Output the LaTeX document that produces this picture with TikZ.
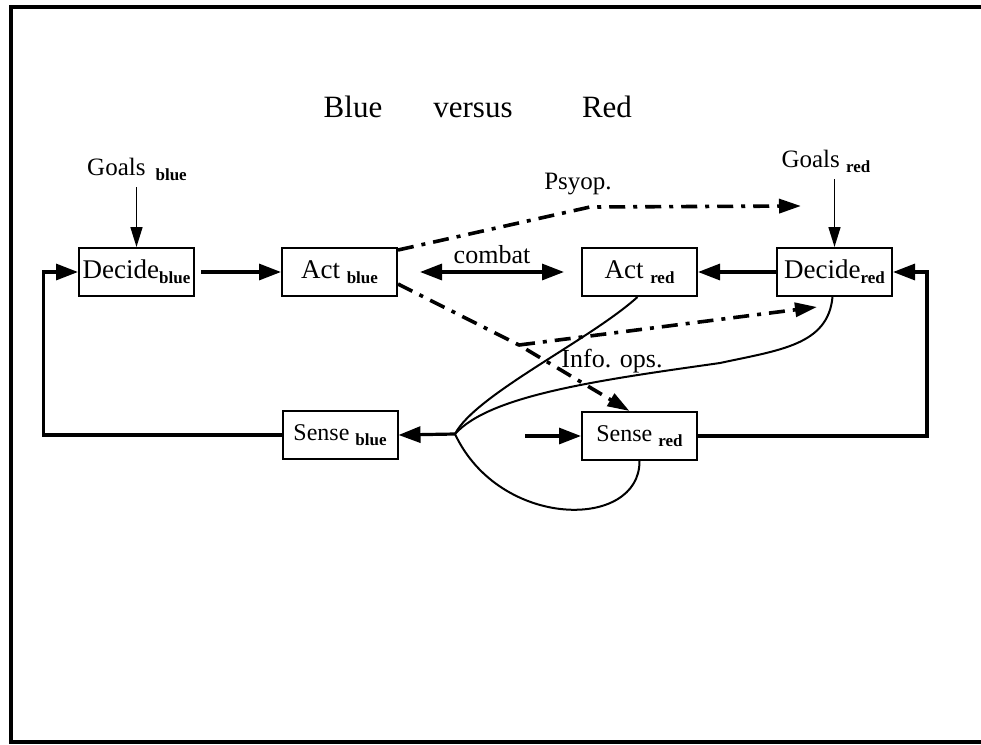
\documentclass[tikz,border=0pt]{standalone}
\usepackage{fontspec}
\setmainfont{Liberation Serif}
\usetikzlibrary{arrows.meta}
\newcommand{\lowsub}[1]{\raisebox{-2.5pt}{\fontsize{8.5}{9}\selectfont\bfseries #1}}

\begin{document}
\begin{tikzpicture}[x=0.5pt,y=-0.5pt,
	stagebox/.style={draw,line width=1pt,minimum width=57.5pt,minimum height=24pt,inner sep=0pt,font=\fontsize{13.5}{15}\selectfont},
	sensebox/.style={stagebox,font=\fontsize{12}{14}\selectfont},
	flowarrow/.style={line width=1.6pt,-{Triangle[length=11pt,width=8pt]}},
	goalarrow/.style={line width=0.8pt,-{Triangle[length=10pt,width=6pt]}},
	opsline/.style={line width=1.8pt,dash pattern=on 8pt off 4pt on 2pt off 4pt,-{Triangle[length=11pt,width=7pt]}},
	curveline/.style={line width=1pt},
	note/.style={font=\fontsize{13}{15}\selectfont},
	titletext/.style={anchor=base,font=\fontsize{15.5}{18}\selectfont}]
			\useasboundingbox (0,0) rectangle (981,745);
			\draw[line width=2pt] (1000,7) -- (11,7) -- (11,742) -- (1000,742);
			\node[titletext] (blue) at (353,117) {Blue};
			\node[titletext] (versus) at (473,117) {versus};
			\node[titletext] (red) at (607,117) {Red};
			\node[stagebox] (decB) at (136.5,272) {Decide\lowsub{blue}};
			\node[stagebox] (actB) at (339.5,272) {Act \lowsub{blue}};
			\node[stagebox] (actR) at (639.5,272) {Act \lowsub{red}};
			\node[stagebox] (decR) at (834.5,272) {Decide\lowsub{red}};
			\node[sensebox] (senB) at (340,435) {Sense \lowsub{blue}};
			\node[sensebox] (senR) at (639.5,436) {Sense \lowsub{red}};
			\node[note,anchor=base,font=\fontsize{12.5}{14}\selectfont] (goalsB) at (137,175) {Goals\hspace{5pt}\lowsub{blue}};
			\node[note,anchor=base,font=\fontsize{12.5}{14}\selectfont] (goalsR) at (826,167) {Goals \lowsub{red}};
			\draw[goalarrow] (goalsB.south -| decB.north) -- (decB.north);
			\draw[goalarrow] (goalsR.south -| decR.north) -- (decR.north);
			\draw[flowarrow] ([xshift=3pt]decB.east) -- (actB.west);
			\draw[flowarrow] (decR.west) -- (actR.east);
			\draw[flowarrow] (senB.west) -- ++(-238,0) |- (decB.west);
			\draw[flowarrow] (senR.east) -- ++(229,0) |- (decR.east);
			\draw[flowarrow,{Triangle[length=11pt,width=8pt]}-{Triangle[length=11pt,width=8pt]}] ([xshift=11pt]actB.east) -- ([xshift=-8.5pt]actR.west);
			\node[note,anchor=base] (combat) at (492,263) {combat};
			\coordinate (psyM) at (590,207);
			\coordinate (psyR) at (801,206);
			\draw[opsline] ([yshift=-1.5pt]actB.north east) -- (psyM) -- (psyR);
			\node[note,anchor=base,font=\fontsize{12.5}{14}\selectfont] (psyop) at (578,189) {Psyop.};
			\coordinate (opsM) at (519,345);
			\coordinate (opsR) at (817,307);
			\draw[opsline] ([yshift=6.5pt]actB.south east) -- (opsM) -- ([xshift=-5pt]senR.north);
			\draw[opsline] (opsM) -- (opsR);
			\node[note,anchor=base] (infoops) at (612,367) {Info. ops.};
			\coordinate (jn) at (455,434);
			\coordinate (sin) at (525,436);
			\draw[flowarrow] (jn) -- (senB.east);
			\draw[flowarrow] (sin) -- (senR.west);
			\draw[curveline] ([xshift=-1pt]actR.south) .. controls (590,340) and (475,395) .. (jn);
			\draw[curveline] ([xshift=-1pt]decR.south) .. controls (828,345) and (780,350) .. (720,363) .. controls (600,380) and (490,395) .. (jn);
			\draw[curveline] (senR.south) .. controls (640,530) and (500,530) .. (jn);
		\end{tikzpicture}
\end{document}
